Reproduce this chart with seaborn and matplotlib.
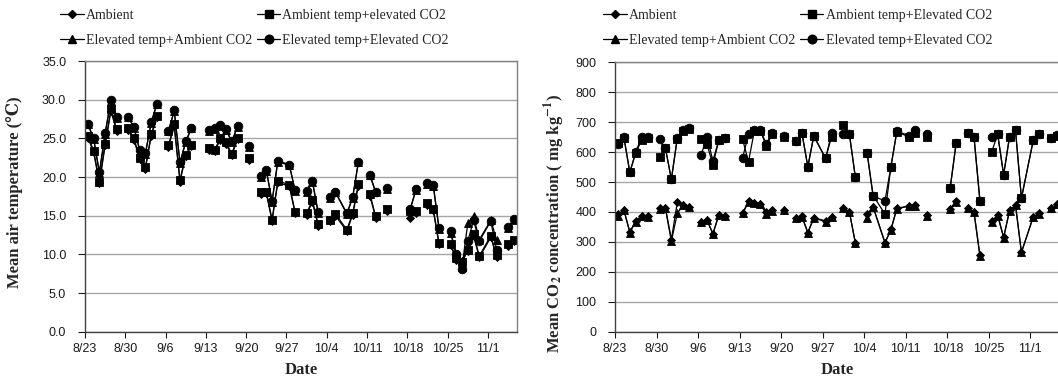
import numpy as np
import pandas as pd
import matplotlib
matplotlib.use("Agg")
import matplotlib.pyplot as plt
import seaborn as sns
from matplotlib.lines import Line2D

nan = np.nan

# ---------------- data ----------------
tick_days = [0, 7, 14, 21, 28, 35, 42, 49, 56, 63, 70]
tick_labels = ["8/23", "8/30", "9/6", "9/13", "9/20", "9/27", "10/4",
               "10/11", "10/18", "10/25", "11/1"]
series_names = ["Ambient", "Ambient temp+elevated CO2",
                "Elevated temp+Ambient CO2", "Elevated temp+Elevated CO2"]
series_names_co2 = ["Ambient", "Ambient temp+Elevated CO2",
                    "Elevated temp+Ambient CO2", "Elevated temp+Elevated CO2"]

# days since 8/23 ; NaN rows break the line
temp_days = [0, 1, 2, 3, 4, 5, 6,
             7, 8, 9, 10, 11, 12, 13,
             14, 15, 16, 17, 18, 19,
             21, 22, 23, 24, 25, 26, 27,
             28, 29,
             30, 31, 32, 33, 35, 36, 37,
             38, 39, 40, 41,
             42, 43, 45, 46, 47, 48,
             49, 50, 51,
             52, 53,
             56, 57, 58,
             59, 60, 61, 62,
             63, 64, 65, 66, 67, 68, 70, 71, 72,
             73, 74]

temp_amb = [25.1, 23.2, 19.2, 24.1, 28.5, 26.0, nan,
            26.1, 24.8, 22.3, 21.1, 25.3, 27.7, nan,
            23.9, 26.6, 19.4, 22.7, 24.0, nan,
            23.5, 23.3, 24.8, 24.3, 22.8, 24.9, nan,
            22.2, nan,
            17.8, 17.9, 14.3, 19.3, 18.8, 15.3, nan,
            15.1, 16.8, 13.7, nan,
            14.3, 15.0, 13.0, 15.1, 18.9, nan,
            17.6, 14.7, nan,
            15.6, nan,
            14.7, 15.4, nan,
            16.4, 15.7, 11.3, nan,
            11.2, 9.3, 9.2, 10.4, 12.4, 9.6, 12.2, 9.7, nan,
            11.1, 11.7]
temp_at_eco2 = [25.3, 23.4, 19.4, 24.3, 28.8, 26.2, nan,
                26.3, 25.0, 22.5, 21.3, 25.5, 27.9, nan,
                24.1, 26.8, 19.6, 22.9, 24.2, nan,
                23.7, 23.5, 25.0, 24.5, 23.0, 25.1, nan,
                22.4, nan,
                18.0, 18.1, 14.5, 19.5, 19.0, 15.5, nan,
                15.3, 17.0, 13.9, nan,
                14.5, 15.2, 13.2, 15.3, 19.1, nan,
                17.8, 14.9, nan,
                15.8, nan,
                15.6, 15.6, nan,
                16.6, 15.9, 11.5, nan,
                11.4, 9.5, 9.0, 10.6, 12.6, 9.8, 12.4, 9.9, nan,
                11.3, 11.9]
temp_et_aco2 = [26.8, 24.9, 20.5, 25.6, 29.8, 27.6, nan,
                27.7, 26.4, 23.4, 23.0, 27.0, 29.4, nan,
                25.9, 28.5, 21.8, 24.5, 26.3, nan,
                26.0, 26.2, 26.6, 26.1, 24.5, 26.5, nan,
                23.9, nan,
                20.0, 20.8, 16.8, 22.0, 21.5, 18.2, nan,
                18.1, 19.4, 15.4, nan,
                17.3, 18.0, 15.2, 17.3, 21.9, nan,
                20.2, 18.0, nan,
                18.5, nan,
                15.8, 18.3, nan,
                19.1, 18.9, 13.3, nan,
                12.8, 9.9, 8.4, 14.0, 15.0, 11.9, 14.4, 11.9, nan,
                13.4, 14.5]
temp_et_eco2 = [26.9, 25.0, 20.6, 25.7, 30.0, 27.8, nan,
                27.8, 26.5, 23.5, 23.1, 27.1, 29.5, nan,
                26.0, 28.6, 21.9, 24.6, 26.4, nan,
                26.1, 26.3, 26.7, 26.2, 24.6, 26.6, nan,
                24.0, nan,
                20.1, 20.9, 16.9, 22.1, 21.6, 18.3, nan,
                18.2, 19.5, 15.5, nan,
                17.4, 18.1, 15.3, 17.4, 22.0, nan,
                20.3, 18.1, nan,
                18.6, nan,
                15.9, 18.4, nan,
                19.2, 19.0, 13.4, nan,
                13.0, 10.1, 8.1, 11.7, 14.4, 11.7, 14.3, 10.6, nan,
                13.5, 14.6]

co2_days = [0, 1, 2, 3, 4, 5, 6,
            7, 8, 9, 10, 11, 12, 13,
            14, 15, 16, 17, 18, 19,
            21, 22, 23, 24, 25, 26, 27,
            28, 29,
            30, 31, 32, 33, 35, 36, 37,
            38, 39, 40, 41,
            42, 43, 45, 46, 47, 49, 50, 51,
            52, 53,
            56, 57, 58,
            59, 60, 61, 62,
            63, 64, 65, 66, 67, 68, 70, 71, 72,
            73, 74]

co2_amb = [392, 406, 334, 370, 387, 386, nan,
           412, 414, 308, 432, 423, 418, nan,
           367, 373, 328, 390, 386, nan,
           395, 437, 429, 427, 401, 406, nan,
           407, nan,
           379, 386, 331, 381, 370, 384, nan,
           412, 401, 297, nan,
           392, 418, 297, 342, 412, 420, 422, nan,
           390, nan,
           410, 438, nan,
           412, 401, 256, nan,
           370, 390, 316, 406, 423, 265, 384, 395, nan,
           412, 428]
co2_at_eco2 = [629, 648, 532, 598, 640, 646, nan,
               585, 613, 509, 645, 672, 677, nan,
               644, 627, 557, 640, 646, nan,
               643, 568, 672, 672, 620, 660, nan,
               652, nan,
               637, 663, 551, 653, 579, 652, nan,
               691, 661, 518, nan,
               596, 455, 393, 551, 668, 651, 665, nan,
               652, nan,
               481, 631, nan,
               665, 652, 438, nan,
               602, 659, 524, 652, 673, 446, 640, 661, nan,
               646, 655]
co2_et_aco2 = [388, 406, 331, 368, 387, 384, nan,
               409, 412, 302, 395, 423, 415, nan,
               367, 373, 326, 390, 387, nan,
               395, 432, 429, 427, 392, 403, nan,
               407, nan,
               379, 384, 331, 379, 368, 382, nan,
               412, 401, 297, nan,
               381, 416, 297, 340, 410, 420, 420, nan,
               388, nan,
               410, 434, nan,
               412, 399, 254, nan,
               368, 387, 314, 404, 423, 265, 384, 393, nan,
               412, 425]
co2_et_eco2 = [627, 651, 532, 601, 651, 651, nan,
               644, 613, 509, 648, 674, 679, nan,
               589, 652, 571, 640, 646, nan,
               580, 660, 674, 674, 627, 665, nan,
               654, nan,
               637, 665, 551, 655, 579, 663, nan,
               661, 661, 516, nan,
               596, 453, 437, 551, 670, 655, 674, nan,
               661, nan,
               481, 631, nan,
               665, 652, 438, nan,
               652, 659, 524, 652, 673, 446, 640, 661, nan,
               648, 657]

# ---------------- style ----------------
sns.set_style("white")
plt.rcParams["font.family"] = ["Liberation Sans", "DejaVu Sans"]
plt.rcParams["mathtext.fontset"] = "stix"

markers = ["D", "s", "^", "o"]
msizes = [4.2, 5.2, 6.0, 6.2]
GRID = "#a6a6a6"


def frame(days, vals):
    v = np.array(vals, float)
    d = np.array(days, float)
    assert len(v) == len(d)
    seg = np.cumsum(np.isnan(v))
    return pd.DataFrame({"day": d, "val": v, "seg": seg}).dropna()


def draw(ax, days, series, ymax, ystep, fmt):
    for vals, m, ms in zip(series, markers, msizes):
        df = frame(days, vals)
        sns.lineplot(data=df, x="day", y="val", units="seg", estimator=None,
                     color="black", marker=m, markersize=ms, markeredgewidth=0.6,
                     markeredgecolor="black", linewidth=0.9, ax=ax, legend=False)
    ax.set_xlim(-0.5, 74.5)
    ax.set_ylim(0, ymax)
    ax.set_xticks([t - 0.5 for t in tick_days])
    ax.set_xticklabels(tick_labels)
    yt = np.arange(0, ymax + ystep / 2, ystep)
    ax.set_yticks(yt)
    ax.set_yticklabels([fmt.format(v) for v in yt])
    ax.grid(axis="y", color=GRID, linewidth=1.0)
    ax.set_axisbelow(True)
    ax.tick_params(axis="x", direction="out", length=4, width=0.8, pad=4,
                   labelsize=9, colors="#1a1a1a", bottom=True)
    ax.tick_params(axis="y", direction="out", length=5, width=0.8, pad=8.5,
                   labelsize=9, colors="#1a1a1a", left=True)
    for s in ["left", "bottom"]:
        ax.spines[s].set_color("#404040")
        ax.spines[s].set_linewidth(1.0)
    for s in ["top", "right"]:
        ax.spines[s].set_color("#808080")
        ax.spines[s].set_linewidth(1.0)
    ax.set_xlabel("Date", family=["Liberation Serif", "DejaVu Serif"],
                  fontweight="bold", fontsize=12, va="top")
    ax.xaxis.set_label_coords(0.5, -0.112)


W, H = 1058, 380
fig = plt.figure(figsize=(W / 100, H / 100), dpi=100)
ax1 = fig.add_axes([85 / W, 1 - 331.7 / H, 431.7 / W, 270.7 / H])
ax2 = fig.add_axes([615 / W, 1 - 331.7 / H, 445 / W, 269.4 / H])

draw(ax1, temp_days, [temp_amb, temp_at_eco2, temp_et_aco2, temp_et_eco2],
     35, 5, "{:.1f}")
draw(ax2, co2_days, [co2_amb, co2_at_eco2, co2_et_aco2, co2_et_eco2],
     900, 100, "{:.0f}")

ax1.set_ylabel("Mean air temperature (\u2103)",
               family=["Liberation Serif", "DejaVu Serif"],
               fontweight="bold", fontsize=12)
ax1.yaxis.set_label_coords(-0.143, 0.514)
ax2.set_ylabel(r"Mean CO$_\mathbf{2}$ concentration ( mg kg$^\mathbf{-1}$)",
               family=["Liberation Serif", "DejaVu Serif"],
               fontweight="bold", fontsize=12)
ax2.yaxis.set_label_coords(-0.108, 0.402)


def legend(ax, names, x0):
    handles = [Line2D([], [], color="black", marker=m, markersize=ms,
                      linewidth=0.9, markeredgecolor="black")
               for m, ms in zip(markers, msizes)]
    order = [0, 2, 1, 3]
    ax.legend([handles[i] for i in order], [names[i] for i in order],
              ncol=2, loc="upper left", bbox_to_anchor=(x0 / W, 1 - 9 / H),
              bbox_transform=fig.transFigure, frameon=False, borderpad=0,
              borderaxespad=0, handlelength=1.7, handletextpad=0.15,
              columnspacing=0.35, labelspacing=0.85,
              prop={"family": ["Liberation Serif", "DejaVu Serif"], "size": 10})


legend(ax1, series_names, 60)
legend(ax2, series_names_co2, 603)

fig.savefig("out.png", dpi=100)
